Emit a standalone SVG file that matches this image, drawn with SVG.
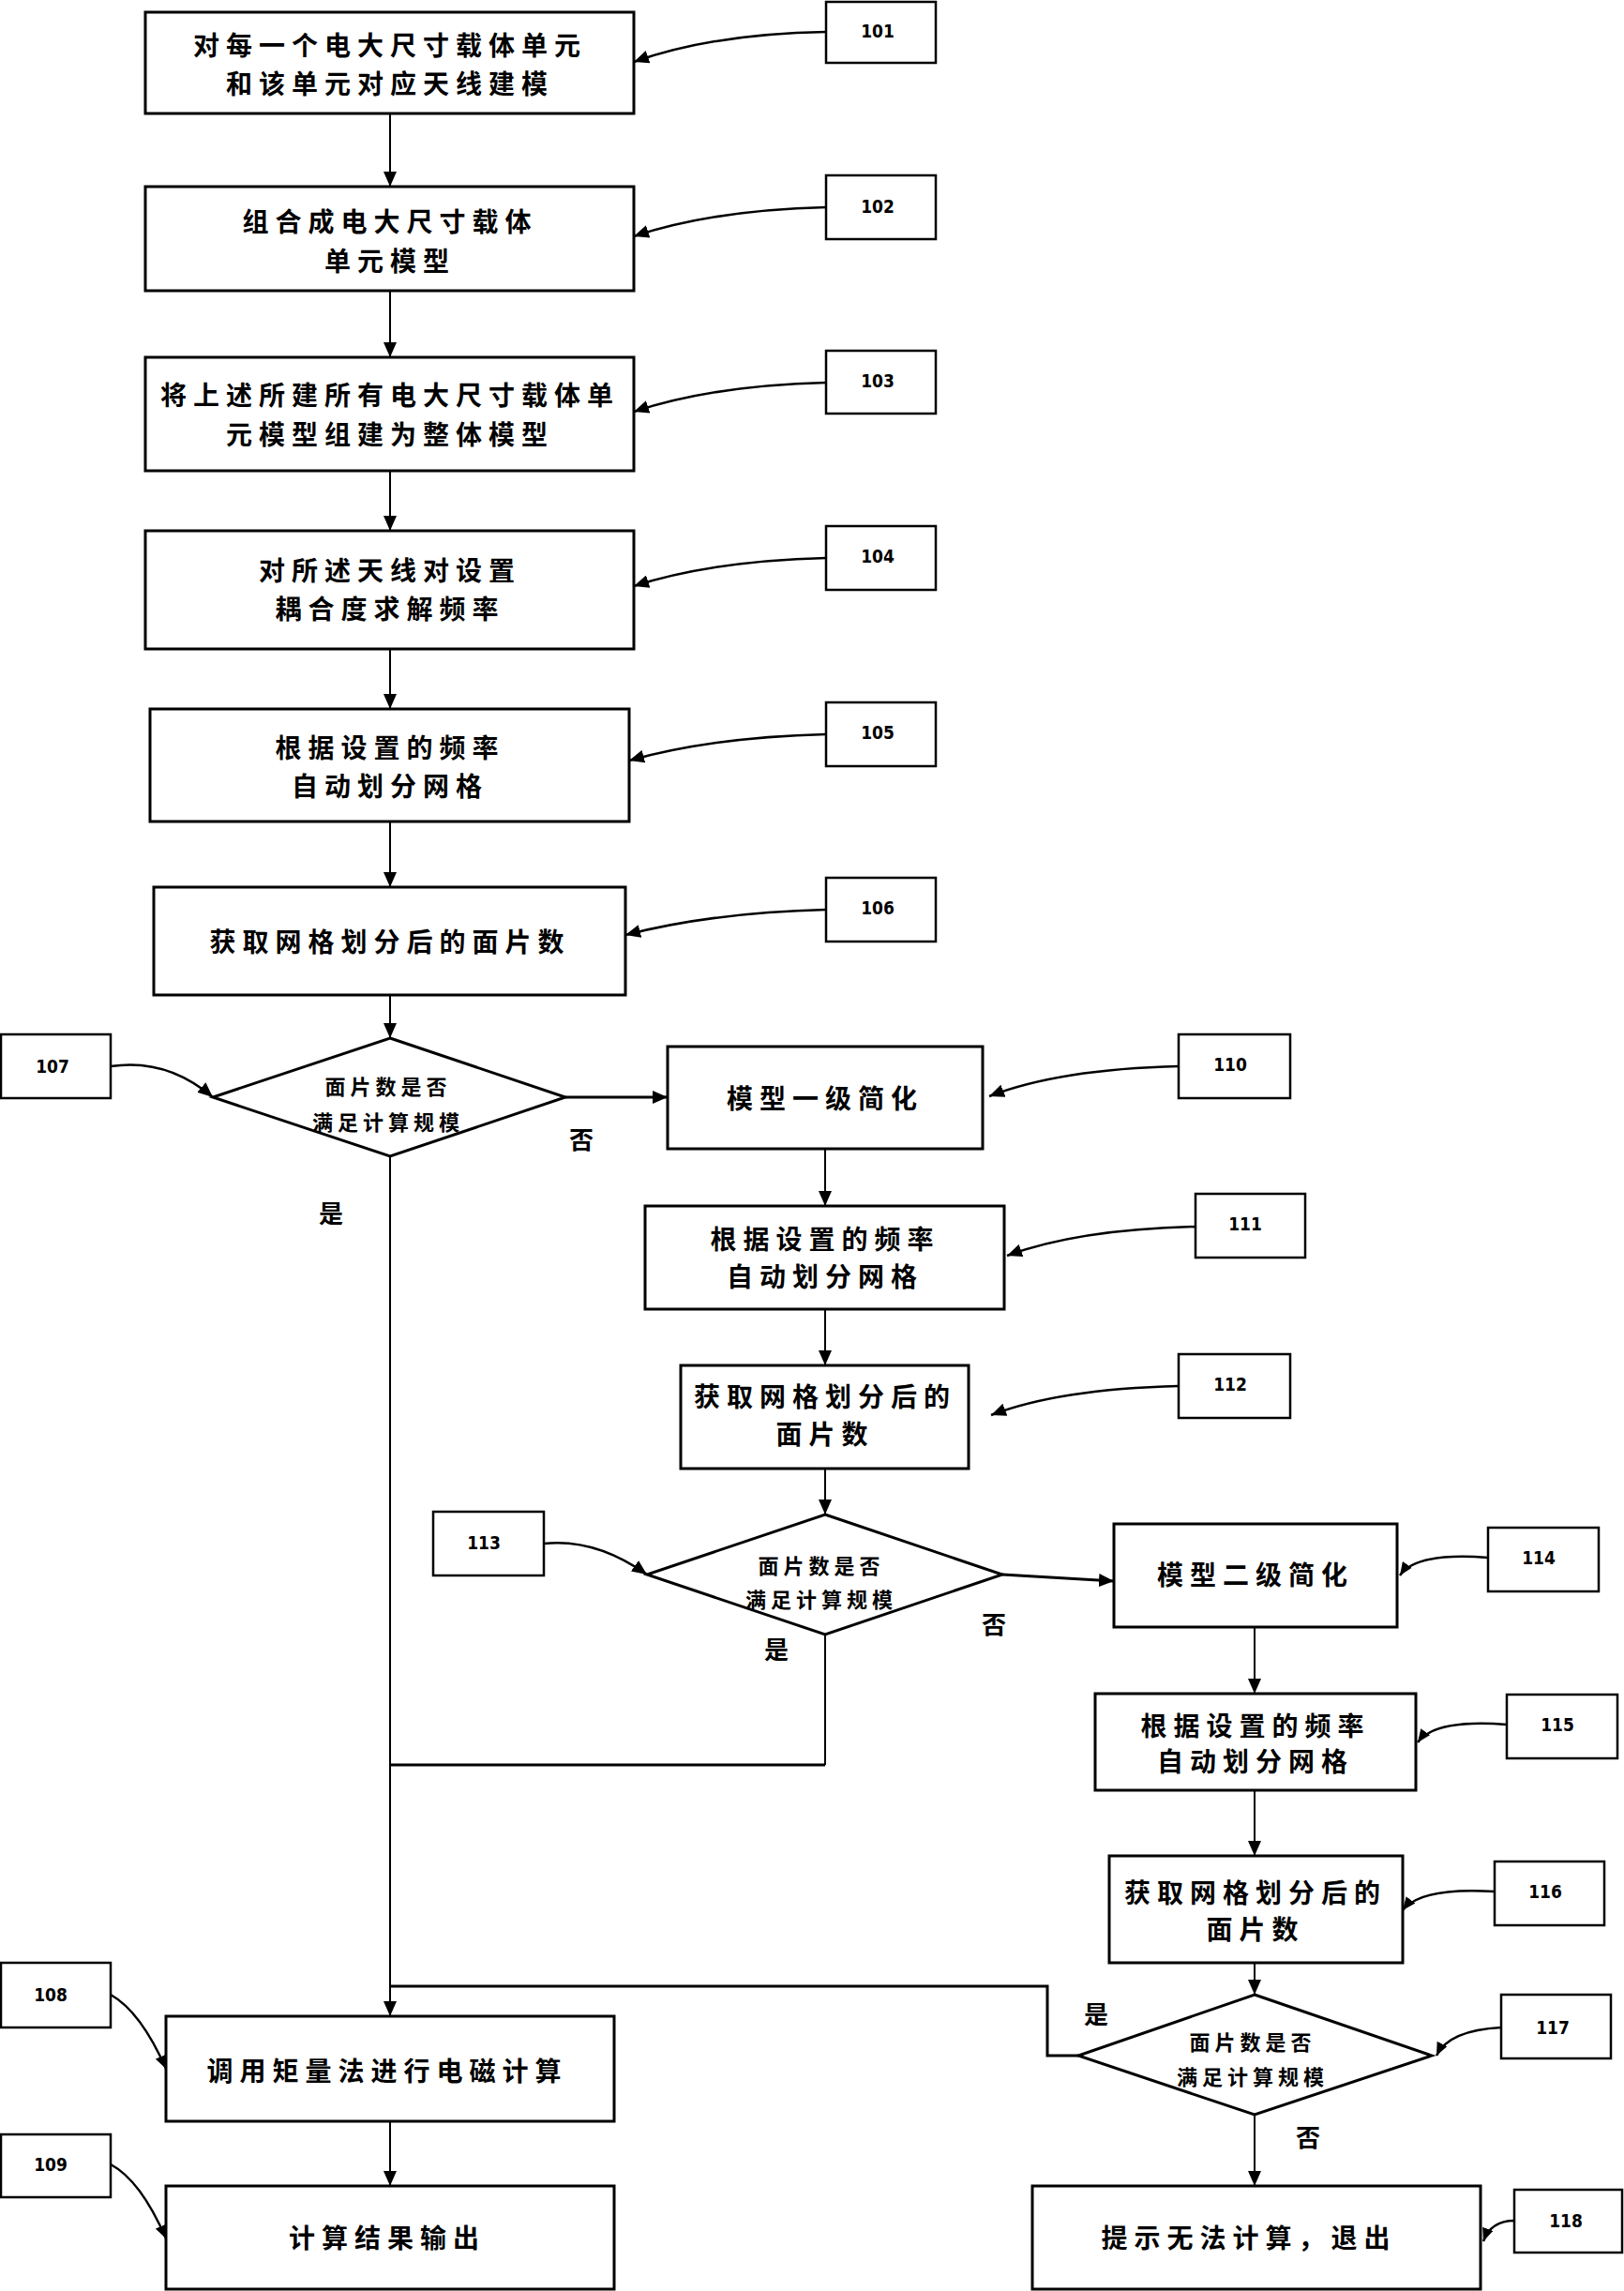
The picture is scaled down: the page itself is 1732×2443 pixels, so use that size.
<svg xmlns="http://www.w3.org/2000/svg" width="1732" height="2443" viewBox="0 0 1732 2443">
<style>
.box{fill:#fff;stroke:#000;stroke-width:3}
.lbl{fill:#fff;stroke:#000;stroke-width:2.5}
.t{font-family:"Noto Sans CJK SC","Noto Sans CJK TC",sans-serif;font-weight:700;font-size:28px;letter-spacing:7px;text-anchor:middle;dominant-baseline:central;fill:#000}
.td{font-family:"Noto Sans CJK SC",sans-serif;font-weight:700;font-size:22px;letter-spacing:5px;text-anchor:middle;dominant-baseline:central;fill:#000}
.yn{font-family:"Noto Sans CJK SC",sans-serif;font-weight:700;font-size:26px;text-anchor:middle;dominant-baseline:central;fill:#000}
.n{font-family:"DejaVu Sans Condensed","Liberation Sans Narrow",sans-serif;font-weight:700;font-size:19px;text-anchor:middle;dominant-baseline:central;fill:#000}
.c{fill:none;stroke:#000;stroke-width:2}
.c3{fill:none;stroke:#000;stroke-width:3}
.p{fill:none;stroke:#000;stroke-width:2.5}
</style>
<defs>
<marker id="ah" viewBox="0 0 16 14" refX="16" refY="7" markerWidth="16" markerHeight="14" markerUnits="userSpaceOnUse" orient="auto"><path d="M0,0 L16,7 L0,14 z" fill="#000"/></marker>
<marker id="ah2" viewBox="0 0 14 12" refX="14" refY="6" markerWidth="14" markerHeight="12" markerUnits="userSpaceOnUse" orient="auto"><path d="M0,0 L14,6 L0,12 z" fill="#000"/></marker>
</defs>

<g id="connectors">
<path class="c" d="M416,121 V199" marker-end="url(#ah)"/>
<path class="c" d="M416,310 V381" marker-end="url(#ah)"/>
<path class="c" d="M416,502 V566" marker-end="url(#ah)"/>
<path class="c" d="M416,692 V756" marker-end="url(#ah)"/>
<path class="c" d="M416,876 V946" marker-end="url(#ah)"/>
<path class="c" d="M416,1061 V1107" marker-end="url(#ah)"/>
<path class="c" d="M416,1233 V2150" marker-end="url(#ah)"/>
<path class="c" d="M416,2262 V2331" marker-end="url(#ah)"/>
<path class="c3" d="M603,1170 H712" marker-end="url(#ah)"/>
<path class="c" d="M880,1225 V1286" marker-end="url(#ah)"/>
<path class="c" d="M880,1396 V1456" marker-end="url(#ah)"/>
<path class="c" d="M880,1566 V1615" marker-end="url(#ah)"/>
<path class="c3" d="M1069,1679 L1188,1686" marker-end="url(#ah)"/>
<path class="c" d="M880,1743 V1882"/>
<path class="c3" d="M880,1882 H416"/>
<path class="c" d="M1338,1735 V1806" marker-end="url(#ah)"/>
<path class="c" d="M1338,1909 V1979" marker-end="url(#ah)"/>
<path class="c" d="M1338,2093 V2127" marker-end="url(#ah)"/>
<path class="c" d="M1338,2255 V2331" marker-end="url(#ah)"/>
<path class="c3" d="M1150,2192 H1117 V2118 H416"/>
<path class="p" d="M881,34 Q760,36 676,66" marker-end="url(#ah)"/>
<path class="p" d="M881,221 Q760,224 676,252" marker-end="url(#ah)"/>
<path class="p" d="M881,408 Q760,411 676,439" marker-end="url(#ah)"/>
<path class="p" d="M881,595 Q760,598 676,625" marker-end="url(#ah)"/>
<path class="p" d="M881,783 Q760,786 671,811" marker-end="url(#ah)"/>
<path class="p" d="M881,970 Q760,973 667,997" marker-end="url(#ah)"/>
<path class="p" d="M118,1137 Q178,1128 227,1170" marker-end="url(#ah)"/>
<path class="p" d="M1257,1137 Q1130,1140 1055,1169" marker-end="url(#ah)"/>
<path class="p" d="M1275,1308 Q1150,1311 1074,1339" marker-end="url(#ah)"/>
<path class="p" d="M1257,1478 Q1130,1481 1057,1509" marker-end="url(#ah)"/>
<path class="p" d="M580,1646 Q635,1640 690,1679" marker-end="url(#ah)"/>
<path class="p" d="M1587,1661 Q1510,1655 1493,1680" marker-end="url(#ah2)"/>
<path class="p" d="M1607,1839 Q1530,1833 1512,1858" marker-end="url(#ah2)"/>
<path class="p" d="M1594,2017 Q1515,2012 1496,2037" marker-end="url(#ah2)"/>
<path class="p" d="M1601,2162 Q1545,2165 1532,2192" marker-end="url(#ah2)"/>
<path class="p" d="M1615,2368 Q1590,2368 1582,2390" marker-end="url(#ah2)"/>
<path class="p" d="M118,2127 Q150,2145 177,2206" marker-end="url(#ah2)"/>
<path class="p" d="M118,2308 Q150,2325 177,2387" marker-end="url(#ah2)"/>
</g>

<g id="n101"><rect class="box" x="155" y="13" width="521" height="108"/><text class="t" x="416" y="47">对每一个电大尺寸载体单元</text><text class="t" x="416" y="88">和该单元对应天线建模</text></g>
<g id="n102"><rect class="box" x="155" y="199" width="521" height="111"/><text class="t" x="416" y="235">组合成电大尺寸载体</text><text class="t" x="416" y="277">单元模型</text></g>
<g id="n103"><rect class="box" x="155" y="381" width="521" height="121"/><text class="t" x="416" y="420">将上述所建所有电大尺寸载体单</text><text class="t" x="416" y="462">元模型组建为整体模型</text></g>
<g id="n104"><rect class="box" x="155" y="566" width="521" height="126"/><text class="t" x="416" y="607">对所述天线对设置</text><text class="t" x="416" y="648">耦合度求解频率</text></g>
<g id="n105"><rect class="box" x="160" y="756" width="511" height="120"/><text class="t" x="416" y="796">根据设置的频率</text><text class="t" x="416" y="837">自动划分网格</text></g>
<g id="n106"><rect class="box" x="164" y="946" width="503" height="115"/><text class="t" x="416" y="1003">获取网格划分后的面片数</text></g>
<g id="n107"><polygon class="box" points="416,1107 603,1170 416,1233 227,1170"/><text class="td" x="414" y="1157">面片数是否</text><text class="td" x="414" y="1195">满足计算规模</text></g>
<g id="n110"><rect class="box" x="712" y="1116" width="336" height="109"/><text class="t" x="880" y="1170">模型一级简化</text></g>
<g id="n111"><rect class="box" x="688" y="1286" width="383" height="110"/><text class="t" x="880" y="1320">根据设置的频率</text><text class="t" x="880" y="1360">自动划分网格</text></g>
<g id="n112"><rect class="box" x="726" y="1456" width="307" height="110"/><text class="t" x="880" y="1488">获取网格划分后的</text><text class="t" x="880" y="1528">面片数</text></g>
<g id="n113"><polygon class="box" points="880,1615 1069,1679 880,1743 690,1679"/><text class="td" x="876" y="1668">面片数是否</text><text class="td" x="876" y="1704">满足计算规模</text></g>
<g id="n114"><rect class="box" x="1188" y="1625" width="302" height="110"/><text class="t" x="1339" y="1678">模型二级简化</text></g>
<g id="n115"><rect class="box" x="1168" y="1806" width="342" height="103"/><text class="t" x="1339" y="1839">根据设置的频率</text><text class="t" x="1339" y="1877">自动划分网格</text></g>
<g id="n116"><rect class="box" x="1183" y="1979" width="313" height="114"/><text class="t" x="1339" y="2017">获取网格划分后的</text><text class="t" x="1339" y="2056">面片数</text></g>
<g id="n117"><polygon class="box" points="1338,2127 1527,2192 1338,2255 1150,2192"/><text class="td" x="1336" y="2176">面片数是否</text><text class="td" x="1336" y="2213">满足计算规模</text></g>
<g id="n108"><rect class="box" x="177" y="2150" width="478" height="112"/><text class="t" x="413" y="2207">调用矩量法进行电磁计算</text></g>
<g id="n109"><rect class="box" x="177" y="2331" width="478" height="110"/><text class="t" x="413" y="2385">计算结果输出</text></g>
<g id="n118"><rect class="box" x="1101" y="2331" width="478" height="110"/><text class="t" x="1332" y="2385">提示无法计算，退出</text></g>

<g id="decisions">
<text class="yn" x="620" y="1213">否</text>
<text class="yn" x="353" y="1292">是</text>
<text class="yn" x="1060" y="1730">否</text>
<text class="yn" x="828" y="1757">是</text>
<text class="yn" x="1169" y="2146">是</text>
<text class="yn" x="1395" y="2277">否</text>
</g>

<g id="labels">
<g id="l101"><rect class="lbl" x="881" y="2" width="117" height="65"/><text class="n" x="936" y="33">101</text></g>
<g id="l102"><rect class="lbl" x="881" y="187" width="117" height="68"/><text class="n" x="936" y="220">102</text></g>
<g id="l103"><rect class="lbl" x="881" y="374" width="117" height="67"/><text class="n" x="936" y="406">103</text></g>
<g id="l104"><rect class="lbl" x="881" y="561" width="117" height="68"/><text class="n" x="936" y="593">104</text></g>
<g id="l105"><rect class="lbl" x="881" y="749" width="117" height="68"/><text class="n" x="936" y="781">105</text></g>
<g id="l106"><rect class="lbl" x="881" y="936" width="117" height="68"/><text class="n" x="936" y="968">106</text></g>
<g id="l107"><rect class="lbl" x="1" y="1103" width="117" height="68"/><text class="n" x="56" y="1137">107</text></g>
<g id="l110"><rect class="lbl" x="1257" y="1103" width="119" height="68"/><text class="n" x="1312" y="1135">110</text></g>
<g id="l111"><rect class="lbl" x="1275" y="1273" width="117" height="68"/><text class="n" x="1328" y="1305">111</text></g>
<g id="l112"><rect class="lbl" x="1257" y="1444" width="119" height="68"/><text class="n" x="1312" y="1476">112</text></g>
<g id="l113"><rect class="lbl" x="462" y="1612" width="118" height="68"/><text class="n" x="516" y="1645">113</text></g>
<g id="l114"><rect class="lbl" x="1587" y="1629" width="118" height="68"/><text class="n" x="1641" y="1661">114</text></g>
<g id="l115"><rect class="lbl" x="1607" y="1807" width="118" height="68"/><text class="n" x="1661" y="1839">115</text></g>
<g id="l116"><rect class="lbl" x="1594" y="1985" width="117" height="68"/><text class="n" x="1648" y="2017">116</text></g>
<g id="l117"><rect class="lbl" x="1601" y="2127" width="117" height="68"/><text class="n" x="1656" y="2162">117</text></g>
<g id="l118"><rect class="lbl" x="1615" y="2335" width="115" height="67"/><text class="n" x="1670" y="2368">118</text></g>
<g id="l108"><rect class="lbl" x="1" y="2093" width="117" height="69"/><text class="n" x="54" y="2127">108</text></g>
<g id="l109"><rect class="lbl" x="1" y="2276" width="117" height="67"/><text class="n" x="54" y="2308">109</text></g>
</g>
</svg>
